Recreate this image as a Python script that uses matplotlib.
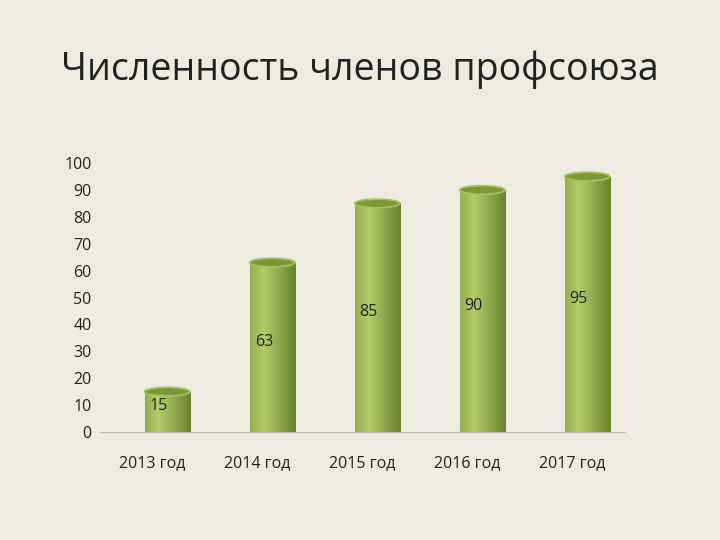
import matplotlib
matplotlib.use("Agg")
import matplotlib.pyplot as plt
import numpy as np
from matplotlib.patches import Ellipse
from matplotlib.colors import LinearSegmentedColormap

years = ["2013 год", "2014 год", "2015 год", "2016 год", "2017 год"]
values = [15, 63, 85, 90, 95]
yticks = list(range(0, 101, 10))

plt.rcParams['font.family'] = ['Open Sans', 'DejaVu Sans']
bg = "#EEECE1"
fig = plt.figure(figsize=(7.2, 5.4), dpi=100, facecolor=bg)
fig.text(0.5, 0.87, "Численность членов профсоюза", ha="center", va="center",
         fontsize=27, color="#222222")
ax = fig.add_axes([0.139, 0.2, 0.729, 0.498], facecolor=bg)
ax.set_xlim(-0.5, 4.5)
ax.set_ylim(0, 100)

off = 0.14
w = 0.43
grad = np.linspace(0, 1, 256)
prof = 1 - np.abs(grad - 0.3) / 0.7 * 0.9
cmap = LinearSegmentedColormap.from_list("g", ["#5f7a25", "#b3cc6a"])
img = np.tile(prof, (2, 1))
for i, v in enumerate(values):
    x0 = i + off - w / 2
    bar = ax.bar(i + off, v, width=w, color="#8fae45", zorder=2)[0]
    im = ax.imshow(img, extent=[x0, x0 + w, 0, v], aspect="auto", cmap=cmap,
                   vmin=0, vmax=1, zorder=3)
    im.set_clip_path(bar)
    ax.add_patch(Ellipse((i + off, v), w, 3.2, facecolor="#7a9838",
                         edgecolor="#a9c25f", lw=1.2, zorder=4))
    ax.add_patch(Ellipse((i + off, 0), w, 3.2, facecolor="#6b8a2c", zorder=1))
    ax.text(i + off - 0.08, v * 0.5 + 2, str(v), ha="center", va="center",
            fontsize=11.5, color="#222222", zorder=5)

ax.set_xticks(range(len(years)))
ax.set_xticklabels(years, fontsize=11.5, color="#222222")
ax.set_yticks(yticks)
ax.set_yticklabels([str(t) for t in yticks], fontsize=11.5, color="#222222")
ax.tick_params(axis="x", length=0, pad=17)
ax.tick_params(axis="y", length=0, pad=6)
for s in ["left", "top", "right"]:
    ax.spines[s].set_visible(False)
ax.spines["bottom"].set_color("#bbbbbb")
fig.savefig("out.png", dpi=100, facecolor=bg)
